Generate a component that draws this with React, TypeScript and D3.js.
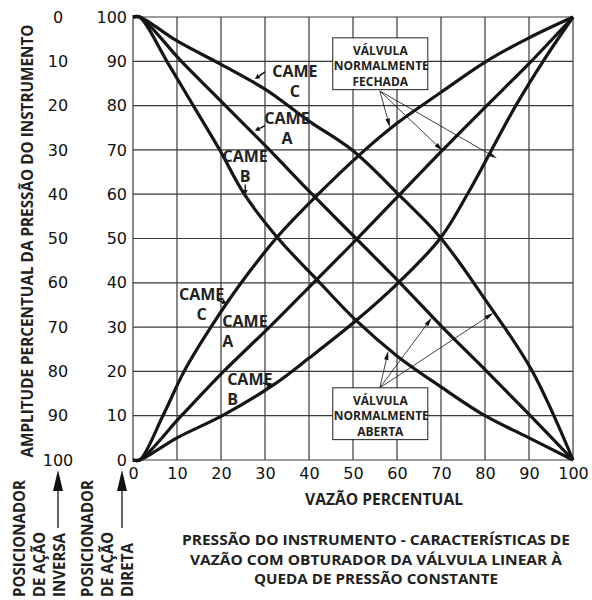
import React, { Component } from 'react';
import * as d3 from 'd3';

// [vazão %, pressão %]
const closedCamC = [[0, 0], [1.5, 0], [6.8, 10], [11.6, 20], [17.7, 30], [24.6, 40], [32.5, 50], [41.7, 59.6], [51.6, 69], [60, 76], [70, 83], [80.3, 90], [90, 95.3], [100, 100]];
const closedCamA = [[0, 0], [1.5, 0], [11, 10], [20.6, 20], [31, 30], [41, 40], [51, 50], [60.7, 60], [70.4, 70], [80.4, 80], [90.5, 90], [100, 100]];
const closedCamB = [[0, 0], [1.5, 0], [10, 5], [20.3, 10], [32, 17], [40, 23], [50.5, 31.3], [60.7, 40.4], [69.8, 50], [76, 60], [81.5, 70], [87, 80], [93.2, 90], [100, 100]];
const openCamC = [[0, 100], [1.5, 100], [10, 94.6], [20, 89.3], [30, 83.7], [40, 76.5], [50, 69.8], [60.7, 59.6], [69.8, 50.3], [80.4, 35.7], [90.6, 20.3], [100, 0]];
const openCamA = [[0, 100], [1.5, 100], [11, 90], [21, 80], [31, 70], [40.7, 60], [50.7, 50], [60.7, 40], [70.3, 30], [80.4, 20], [90.3, 10], [100, 0]];
const openCamB = [[0, 100], [1.5, 100], [7.7, 90], [13.7, 80], [19.7, 70], [25.3, 60], [33, 50], [41.9, 40.6], [50.7, 31.5], [60, 23.5], [70, 16.5], [80, 10], [90, 5], [100, 0]];

const pctTicks = [0, 10, 20, 30, 40, 50, 60, 70, 80, 90, 100];
const inverseTicks = [100, 90, 80, 70, 60, 50, 40, 30, 20, 10, 0];

const titleLines = ['PRESSÃO DO INSTRUMENTO - CARACTERÍSTICAS DE', 'VAZÃO COM OBTURADOR DA VÁLVULA LINEAR À', 'QUEDA DE PRESSÃO CONSTANTE'];

// cam labels: text lines, anchor point (data units), pointer from -> to
const camLabels = [
  { lines: ['CAME', 'C'], x: 36.8, y: 86.5, align: 'middle', from: [30, 87.6], to: [27.7, 86] },
  { lines: ['CAME', 'A'], x: 35, y: 75.8, align: 'middle', from: [30, 75.5], to: [27.7, 74.3] },
  { lines: ['CAME', 'B'], x: 25.5, y: 67.3, align: 'middle', from: [25.5, 62.2], to: [25.5, 59.8] },
  { lines: ['CAME', 'C'], x: 15.6, y: 36.1, align: 'middle', from: [19.1, 36.1], to: [21.4, 35.4] },
  { lines: ['CAME', 'A'], x: 20.3, y: 30, align: 'start', from: null, to: null },
  { lines: ['CAME', 'B'], x: 21.4, y: 16.9, align: 'start', from: [29.5, 17.4], to: [31.6, 16.6] },
];

const valveBoxes = [
  { lines: ['VÁLVULA', 'NORMALMENTE', 'FECHADA'], x0: 45.4, x1: 67, y0: 95.3, y1: 83.6, from: [56.1, 83.3], to: [[58.4, 75.1], [70.4, 69.8], [82.7, 68.1]] },
  { lines: ['VÁLVULA', 'NORMALMENTE', 'ABERTA'], x0: 45.4, x1: 67, y0: 16.3, y1: 4.6, from: [56.1, 16.3], to: [[58, 24.6], [67.9, 32.1], [81.9, 33.2]] },
];

const FONT = "'Open Sans', 'DejaVu Sans', sans-serif";
const NUM_FONT = "'DejaVu Sans', sans-serif";

class Chart extends Component {
  node: SVGSVGElement | null = null;

  componentDidMount() {
    this.renderChart();
  }

  renderChart() {
    const svg = d3.select(this.node);
    svg.selectAll('*').remove();

    const x = d3.scaleLinear().domain([0, 100]).range([133, 573]);
    const y = d3.scaleLinear().domain([0, 100]).range([460, 17]);

    svg.append('rect').attr('width', 592).attr('height', 600).attr('fill', '#fff');

    // grid
    const grid = svg.append('g').attr('stroke', '#3a3a3a').attr('stroke-width', 1.2);
    grid.selectAll('.gx').data(pctTicks).enter().append('line')
      .attr('x1', d => x(d)).attr('x2', d => x(d))
      .attr('y1', y(0)).attr('y2', y(100));
    grid.selectAll('.gy').data(pctTicks).enter().append('line')
      .attr('x1', x(0)).attr('x2', x(100))
      .attr('y1', d => y(d)).attr('y2', d => y(d));

    // tick labels
    const styleTicks = (g: any) => {
      g.select('.domain').remove();
      g.selectAll('text').attr('font-family', NUM_FONT).attr('font-size', 16).attr('fill', '#111');
    };
    svg.append('g').attr('transform', `translate(0, ${y(0)})`)
      .call(d3.axisBottom(x).tickValues(pctTicks).tickSize(0).tickPadding(8).tickFormat(d3.format('d')))
      .call(styleTicks);
    svg.append('g').attr('transform', `translate(${x(0)}, 0)`)
      .call(d3.axisLeft(y).tickValues(pctTicks).tickSize(0).tickPadding(6).tickFormat(d3.format('d')))
      .call(styleTicks);
    svg.append('g').attr('transform', 'translate(58, 0)')
      .call(d3.axisLeft(y).tickValues(pctTicks).tickSize(0).tickPadding(0)
        .tickFormat((d, i) => String(inverseTicks[i])))
      .call(styleTicks)
      .selectAll('text').attr('text-anchor', 'middle').attr('x', 0);

    // curves
    const line = d3.line<number[]>()
      .x(d => x(d[0]))
      .y(d => y(d[1]))
      .curve(d3.curveCatmullRom.alpha(0.5));
    const curves = [closedCamC, closedCamA, closedCamB, openCamC, openCamA, openCamB];
    svg.append('g').selectAll('path').data(curves).enter().append('path')
      .attr('d', d => line(d))
      .attr('fill', 'none')
      .attr('stroke', '#151515')
      .attr('stroke-width', 3.2)
      .attr('stroke-linejoin', 'round');

    const arrow = (g: any, p1: number[], p2: number[], w: number, len: number, half: number) => {
      const x1 = x(p1[0]), y1 = y(p1[1]), x2 = x(p2[0]), y2 = y(p2[1]);
      const a = Math.atan2(y2 - y1, x2 - x1);
      const bx = x2 - len * Math.cos(a), by = y2 - len * Math.sin(a);
      g.append('line').attr('x1', x1).attr('y1', y1).attr('x2', bx).attr('y2', by)
        .attr('stroke', '#111').attr('stroke-width', w);
      g.append('path')
        .attr('d', `M${x2},${y2}L${bx + half * Math.sin(a)},${by - half * Math.cos(a)}L${bx - half * Math.sin(a)},${by + half * Math.cos(a)}Z`)
        .attr('fill', '#111');
    };

    // cam labels
    const labels = svg.append('g');
    camLabels.forEach(l => {
      const t = labels.append('text')
        .attr('font-family', FONT).attr('font-weight', 700).attr('font-size', 16)
        .attr('fill', '#222').attr('text-anchor', l.align);
      l.lines.forEach((s, i) => {
        t.append('tspan').attr('x', x(l.x)).attr('y', y(l.y) + i * 20).text(s);
      });
      if (l.from) arrow(labels, l.from, l.to, 1.4, 5, 2.5);
    });

    // valve boxes
    valveBoxes.forEach(b => {
      const g = svg.append('g');
      b.to.forEach(p => arrow(g, b.from, p, 0.8, 9, 2.2));
      g.append('rect')
        .attr('x', x(b.x0)).attr('y', y(b.y0))
        .attr('width', x(b.x1) - x(b.x0)).attr('height', y(b.y1) - y(b.y0))
        .attr('fill', '#fff').attr('stroke', '#222').attr('stroke-width', 1);
      const cx = (x(b.x0) + x(b.x1)) / 2;
      b.lines.forEach((s, i) => {
        g.append('text')
          .attr('x', cx + (i === 1 ? 1 : 0)).attr('y', y(b.y0) + 17 + i * 15.5)
          .attr('text-anchor', 'middle')
          .attr('font-family', FONT).attr('font-weight', 700).attr('font-size', 12)
          .attr('fill', '#222').text(s);
      });
    });

    // axis titles
    svg.append('text')
      .attr('transform', 'translate(33, 241) rotate(-90)')
      .attr('text-anchor', 'middle')
      .attr('font-family', FONT).attr('font-weight', 700).attr('font-size', 15.5)
      .attr('textLength', 433).attr('lengthAdjust', 'spacingAndGlyphs')
      .attr('fill', '#222')
      .text('AMPLITUDE PERCENTUAL DA PRESSÃO DO INSTRUMENTO');

    svg.append('text')
      .attr('x', 384).attr('y', 505)
      .attr('text-anchor', 'middle')
      .attr('font-family', FONT).attr('font-weight', 700).attr('font-size', 16)
      .attr('textLength', 158).attr('lengthAdjust', 'spacingAndGlyphs')
      .attr('fill', '#222')
      .text('VAZÃO PERCENTUAL');

    const titlePos = [[376, 545, 388], [376, 564.5, 372], [376, 584, 244]];
    titleLines.forEach((s, i) => {
      svg.append('text')
        .attr('x', titlePos[i][0]).attr('y', titlePos[i][1])
        .attr('text-anchor', 'middle')
        .attr('font-family', FONT).attr('font-weight', 700).attr('font-size', 15)
        .attr('textLength', titlePos[i][2]).attr('lengthAdjust', 'spacingAndGlyphs')
        .attr('fill', '#222')
        .text(s);
    });

    // positioner notes, bottom left
    const notes = [
      { x: 25, text: 'POSICIONADOR', len: 117 },
      { x: 45, text: 'DE AÇÃO', len: 65 },
      { x: 65, text: 'INVERSA', len: 64 },
      { x: 93, text: 'POSICIONADOR', len: 117 },
      { x: 113, text: 'DE AÇÃO', len: 65 },
      { x: 133, text: 'DIRETA', len: 54 },
    ];
    notes.forEach(n => {
      svg.append('text')
        .attr('transform', `translate(${n.x}, 597) rotate(-90)`)
        .attr('font-family', FONT).attr('font-weight', 700).attr('font-size', 16)
        .attr('textLength', n.len).attr('lengthAdjust', 'spacingAndGlyphs')
        .attr('fill', '#222')
        .text(n.text);
    });
    [58, 122].forEach(ax => {
      svg.append('line').attr('x1', ax).attr('x2', ax).attr('y1', 528).attr('y2', 488)
        .attr('stroke', '#111').attr('stroke-width', 1.3);
      svg.append('path').attr('d', `M${ax},470L${ax - 5},491L${ax + 5},491Z`).attr('fill', '#111');
    });
  }

  render() {
    return (
      <svg
        ref={node => { this.node = node; }}
        width={592}
        height={600}
        style={{ position: 'absolute', left: 0, top: 0 }}
      />
    );
  }
}

export default function App() {
  return <Chart />;
}
